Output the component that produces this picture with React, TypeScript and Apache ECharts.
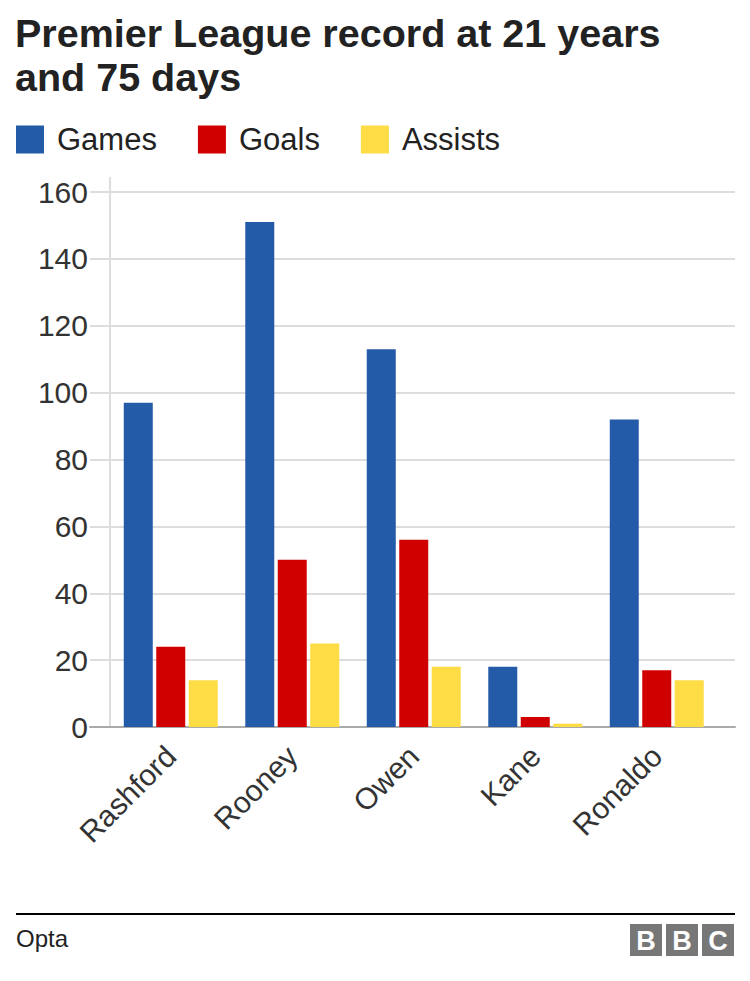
import React, { useEffect, useRef } from "react";
import * as echarts from "echarts";

const titleLines = ["Premier League record at 21 years", "and 75 days"];
const categories = ["Rashford", "Rooney", "Owen", "Kane", "Ronaldo"];
const seriesNames = ["Games", "Goals", "Assists"];
const games = [97, 151, 113, 18, 92];
const goals = [24, 50, 56, 3, 17];
const assists = [14, 25, 18, 1, 14];
const yTicks = { min: 0, max: 160, interval: 20 };
const source = "Opta";

const FONT = "'Liberation Sans', Arial, Helvetica, sans-serif";
const COLORS = ["#245ba8", "#d10000", "#fddc45"];

export default function App() {
  const ref = useRef<HTMLDivElement>(null);
  useEffect(() => {
    document.body.style.margin = "0";
    const chart = echarts.init(ref.current!, null, { renderer: "svg" });
    const values = [games, goals, assists];
    const logoLetters = ["B", "B", "C"];
    chart.setOption({
      animation: false,
      backgroundColor: "#ffffff",
      title: {
        text: titleLines.join("\n"),
        left: 15,
        top: 11,
        padding: 0,
        textStyle: {
          fontFamily: FONT,
          fontSize: 39.5,
          fontWeight: "bold",
          lineHeight: 44,
          color: "#222222",
        },
      },
      legend: {
        left: 16,
        top: 124,
        padding: 0,
        itemWidth: 28,
        itemHeight: 28,
        itemGap: 41,
        icon: "rect",
        data: seriesNames,
        textStyle: {
          fontFamily: FONT,
          fontSize: 31,
          color: "#222222",
          padding: [0, 0, 0, 8],
        },
      },
      grid: [
        { left: 110, right: 32.5, top: 192, bottom: 254 },
        { left: 90, right: 15, top: 192, bottom: 254 },
      ],
      xAxis: [
        {
          type: "category",
          gridIndex: 0,
          data: categories,
          axisLine: { show: false },
          axisTick: { show: false },
          axisLabel: {
            rotate: 45,
            margin: 24,
            fontFamily: FONT,
            fontSize: 30,
            color: "#333333",
            interval: 0,
          },
        },
        {
          type: "value",
          gridIndex: 1,
          min: 0,
          max: 1,
          axisLine: { show: true, lineStyle: { color: "#aaaaaa", width: 2 } },
          axisTick: { show: false },
          axisLabel: { show: false },
          splitLine: { show: false },
        },
      ],
      yAxis: [
        {
          type: "value",
          gridIndex: 0,
          min: yTicks.min,
          max: yTicks.max,
          interval: yTicks.interval,
          axisLine: { show: false },
          axisTick: { show: false },
          axisLabel: { show: false },
          splitLine: { show: false },
        },
        {
          type: "value",
          gridIndex: 1,
          min: yTicks.min,
          max: yTicks.max,
          interval: yTicks.interval,
          axisLine: { show: false },
          axisTick: { show: false },
          axisLabel: {
            margin: 2,
            fontFamily: FONT,
            fontSize: 30,
            color: "#333333",
          },
          splitLine: { show: true, lineStyle: { color: "#dddddd", width: 2 } },
        },
      ],
      series: seriesNames.map((name, i) => ({
        name,
        type: "bar",
        xAxisIndex: 0,
        yAxisIndex: 0,
        data: values[i],
        barWidth: 29,
        barGap: "12%",
        itemStyle: { color: COLORS[i] },
        z: 3,
      })),
      graphic: [
        {
          type: "line",
          shape: { x1: 110, y1: 177, x2: 110, y2: 727 },
          style: { stroke: "#dddddd", lineWidth: 2 },
          z: 0,
        },
        {
          type: "line",
          shape: { x1: 16, y1: 914, x2: 735, y2: 914 },
          style: { stroke: "#000000", lineWidth: 2 },
        },
        {
          type: "text",
          left: 16,
          top: 926,
          style: {
            text: source,
            fontFamily: FONT,
            fontSize: 24,
            fill: "#222222",
          },
        },
        ...logoLetters.flatMap((ch, i) => [
          {
            type: "rect",
            shape: { x: 630 + i * 36, y: 924, width: 32, height: 32 },
            style: { fill: "#777777" },
          },
          {
            type: "text",
            x: 646 + i * 36,
            y: 941,
            style: {
              text: ch,
              fontFamily: FONT,
              fontSize: 27,
              fontWeight: "bold",
              fill: "#ffffff",
              align: "center",
              verticalAlign: "middle",
            },
          },
        ]),
      ],
    });
    return () => chart.dispose();
  }, []);
  return <div ref={ref} style={{ width: 750, height: 981 }} />;
}
